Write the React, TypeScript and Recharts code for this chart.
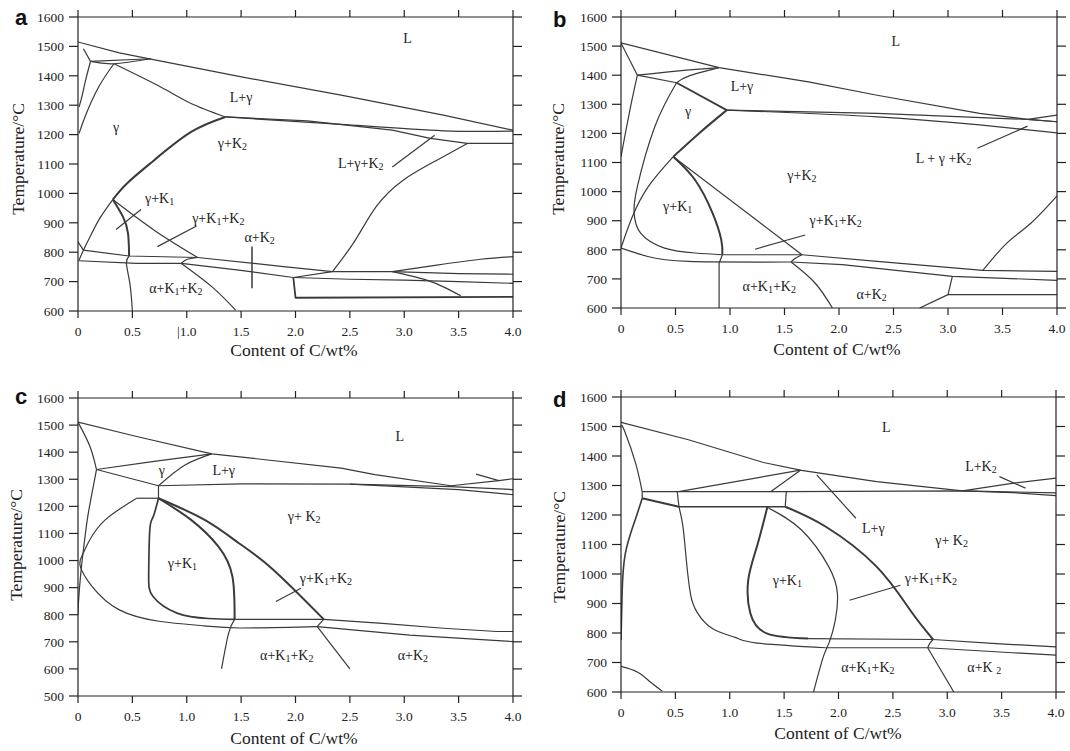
import React from 'react';
import { ComposedChart, Line, Scatter, XAxis, YAxis } from 'recharts';

type P = [number, number];
type L = [number, number, string];

const FONT = '"Liberation Serif", "Times New Roman", serif';
const SANS = '"Liberation Sans", Arial, sans-serif';
const INK = '#222';
const LINE = '#3a3a3a';

// ---------- axis ticks ----------
const xTicks = [0, 0.5, 1, 1.5, 2, 2.5, 3, 3.5, 4];
const yTicks600 = [600, 700, 800, 900, 1000, 1100, 1200, 1300, 1400, 1500, 1600];
const yTicks500 = [500, 600, 700, 800, 900, 1000, 1100, 1200, 1300, 1400, 1500, 1600];

// ---------- panel a ----------
const aLiquidus: P[] = [[0, 1515], [0.38, 1478], [0.67, 1457], [1.48, 1398], [2.42, 1334], [3.36, 1266], [4.0, 1215]];
const aDeltaTop: P[] = [[0.05, 1492], [0.115, 1449]];
const aDeltaSolvus: P[] = [[0.115, 1449], [0.07, 1385], [0.035, 1328], [0.01, 1294]];
const aPeritectic1: P[] = [[0.115, 1449], [0.67, 1458]];
const aPeritectic2: P[] = [[0.115, 1449], [0.33, 1441], [0.67, 1458]];
const aGammaSolidus: P[] = [[0.33, 1441], [0.19, 1362], [0.07, 1266], [0.01, 1204]];
const aLGamma: P[] = [[0.33, 1441], [0.76, 1362], [1.04, 1306], [1.355, 1260]];
const aEutUp: P[] = [[1.355, 1260], [2.42, 1235], [3.36, 1213], [4.0, 1212]];
const aEutLow: P[] = [[1.355, 1260], [2.11, 1247], [2.89, 1215], [3.24, 1187], [3.58, 1170], [4.0, 1170]];
const aGammaK2: P[] = [[1.355, 1260], [1.04, 1209], [0.7, 1113], [0.45, 1034], [0.32, 979]];
const aGammaK1: P[] = [[0.32, 979], [0.2, 915], [0.11, 852], [0.05, 807], [0.01, 773]];
const aCorner: P[] = [[0, 835], [0.05, 807]];
const aK1Solvus: P[] = [[0.32, 979], [0.414, 920], [0.46, 864], [0.47, 787]];
const aGK1K2: P[] = [[0.32, 979], [0.7, 875], [1.1, 782]];
const aUpper: P[] = [[0.05, 807], [0.47, 787], [1.1, 782], [1.89, 751], [2.34, 734]];
const aLower: P[] = [[0.005, 771], [0.54, 762], [0.95, 762]];
const aLoop: P[] = [[0.95, 762], [1.0, 775], [1.1, 782]];
const aAlphaTop: P[] = [[0.95, 762], [1.48, 739], [1.98, 714]];
const aAlphaK1: P[] = [[0.95, 762], [1.23, 683], [1.45, 603]];
const aStep: P[] = [[1.98, 714], [2.34, 734], [2.89, 734]];
const aUpperRight: P[] = [[2.89, 734], [3.3, 756], [3.7, 776], [4.0, 785]];
const aMidRight: P[] = [[2.89, 734], [3.5, 727], [4.0, 725]];
const aLowRight: P[] = [[1.98, 714], [2.5, 708], [3.0, 705], [3.5, 700], [4.0, 694]];
const aDrop: P[] = [[2.89, 734], [3.2, 706], [3.39, 677], [3.52, 652]];
const aBox: P[] = [[1.98, 714], [2.0, 645], [4.0, 648]];
const aRightCurve: P[] = [[2.34, 734], [2.55, 841], [2.74, 954], [2.99, 1045], [3.3, 1113], [3.58, 1170]];
const aVertical: P[] = [[0.47, 787], [0.445, 762], [0.477, 694], [0.5, 600]];
const aPtr1: P[] = [[2.89, 1090], [3.28, 1198]];
const aPtr2: P[] = [[0.35, 877], [0.58, 945]];
const aPtr3: P[] = [[0.73, 819], [1.09, 889]];
const aPtr4: P[] = [[1.6, 819], [1.6, 677]];
const aLabels: L[] = [
  [3.03, 1530, 'L'], [1.5, 1328, 'L+γ'], [0.35, 1226, 'γ'], [1.42, 1170, 'γ+K_2'],
  [2.6, 1102, 'L+γ+K_2'], [0.75, 983, 'γ+K_1'], [1.29, 915, 'γ+K_1+K_2'],
  [1.67, 853, 'α+K_2'], [0.9, 677, 'α+K_1+K_2'],
];

// ---------- panel b ----------
const bLiquidus: P[] = [[0, 1511], [0.9, 1426], [1.72, 1377], [2.35, 1331], [3.29, 1269], [3.73, 1248], [4.0, 1240]];
const bLK2: P[] = [[3.73, 1248], [4.0, 1263]];
const bDelta1: P[] = [[0, 1511], [0.15, 1400]];
const bDelta2: P[] = [[0.15, 1400], [0.1, 1314], [0.04, 1200], [0, 1120]];
const bPeri: P[] = [[0.15, 1400], [0.53, 1415], [0.9, 1426]];
const bGammaTop: P[] = [[0.51, 1374], [0.62, 1397], [0.9, 1426]];
const bPeri2: P[] = [[0.15, 1400], [0.51, 1374]];
const bLGamma: P[] = [[0.51, 1374], [0.97, 1280]];
const bGammaK1Left: P[] = [[0.51, 1374], [0.31, 1223], [0.15, 1017], [0.12, 926], [0.18, 857], [0.4, 806], [0.68, 789], [0.93, 783]];
const bEutUp: P[] = [[0.97, 1280], [2.35, 1269], [3.73, 1248], [4.0, 1240]];
const bEutLow: P[] = [[0.97, 1280], [2.35, 1257], [3.29, 1229], [4.0, 1202]];
const bGammaK2: P[] = [[0.97, 1280], [0.715, 1200], [0.48, 1120]];
const bGammaK2b: P[] = [[0.48, 1120], [0.25, 1017], [0.1, 910], [0, 806]];
const bK1Solvus: P[] = [[0.48, 1120], [0.68, 1040], [0.84, 926], [0.92, 834], [0.93, 783]];
const bGK1K2: P[] = [[0.48, 1120], [1.66, 783]];
const b783: P[] = [[0.93, 783], [1.66, 783]];
const bAlphaUp: P[] = [[1.66, 783], [2.35, 760], [3.32, 729], [4.0, 726]];
const bLower: P[] = [[0, 806], [0.245, 777], [0.62, 760], [1.56, 758]];
const bLoop: P[] = [[1.56, 758], [1.6, 771], [1.66, 783]];
const bAlphaLow: P[] = [[1.56, 758], [2.03, 749], [3.04, 709], [4.0, 695]];
const bVert: P[] = [[0.93, 783], [0.9, 754], [0.9, 600]];
const bAlphaK1: P[] = [[1.56, 758], [1.78, 686], [1.94, 600]];
const bRight: P[] = [[3.32, 729], [3.54, 823], [3.76, 891], [4.0, 985]];
const bDrop: P[] = [[3.04, 709], [3.0, 646], [4.0, 646]];
const bBottom: P[] = [[3.0, 646], [2.74, 600]];
const bPtr1: P[] = [[3.27, 1149], [3.73, 1225]];
const bPtr2: P[] = [[1.23, 802], [1.69, 851]];
const bLabels: L[] = [
  [2.52, 1518, 'L'], [1.11, 1362, 'L+γ'], [0.615, 1278, 'γ'], [2.96, 1114, 'L + γ +K_2'],
  [1.66, 1057, 'γ+K_2'], [0.52, 951, 'γ+K_1'], [1.97, 903, 'γ+K_1+K_2'],
  [1.36, 677, 'α+K_1+K_2'], [2.3, 649, 'α+K_2'],
];

// ---------- panel c ----------
const cLiquidus: P[] = [[0, 1511], [0.54, 1458], [1.23, 1394], [2.42, 1341], [2.73, 1317], [3.43, 1276]];
const cLK2: P[] = [[3.43, 1276], [3.87, 1295], [4.0, 1302]];
const cPtr1: P[] = [[3.66, 1319], [3.87, 1295]];
const cDelta1: P[] = [[0, 1511], [0.11, 1421], [0.17, 1336]];
const cDelta2: P[] = [[0.17, 1336], [0.12, 1230], [0.085, 1150], [0.05, 1040], [0.025, 950], [0.005, 850], [0, 800]];
const cPeri: P[] = [[0.17, 1336], [0.7, 1366], [1.23, 1394]];
const cPeri2: P[] = [[0.17, 1336], [0.74, 1276]];
const cGammaTop: P[] = [[0.74, 1276], [0.98, 1352], [1.23, 1394]];
const cBoxV: P[] = [[0.74, 1276], [0.74, 1230]];
const cBoxH: P[] = [[0.54, 1230], [0.74, 1230]];
const cArc: P[] = [[0.54, 1230], [0.25, 1150], [0.1, 1070], [0.04, 1020], [0.02, 980], [0.13, 904], [0.38, 818], [0.76, 775], [1.16, 759], [1.48, 751], [2.2, 756]];
const cEutUp: P[] = [[0.74, 1276], [1.5, 1283], [2.5, 1282], [3.43, 1273], [4.0, 1262]];
const cEutLow: P[] = [[2.5, 1282], [3.5, 1262], [4.0, 1243]];
const cGammaK2: P[] = [[0.74, 1230], [1.165, 1150], [1.48, 1064], [1.79, 968], [2.26, 783]];
const cK1Solvus: P[] = [[0.74, 1230], [1.04, 1150], [1.29, 1052], [1.42, 941], [1.44, 781]];
const cK1Left: P[] = [[0.74, 1230], [0.69, 1160], [0.66, 1113], [0.65, 953], [0.69, 867], [0.91, 806], [1.2, 786], [1.44, 783]];
const c783: P[] = [[1.44, 783], [2.26, 783]];
const cAlphaUp: P[] = [[2.26, 783], [2.8, 768], [3.36, 750], [3.85, 738], [4.0, 738]];
const cAlphaLow: P[] = [[2.2, 756], [3.05, 725], [4.0, 701]];
const cLoop: P[] = [[2.2, 756], [2.23, 770], [2.26, 783]];
const cK1Down: P[] = [[1.44, 783], [1.385, 732], [1.32, 600]];
const cAlphaK1: P[] = [[2.2, 756], [2.5, 600]];
const cPtr2: P[] = [[1.82, 849], [2.05, 898]];
const cLabels: L[] = [
  [2.96, 1458, 'L'], [1.34, 1335, 'L+γ'], [0.77, 1333, 'γ'], [2.08, 1163, 'γ+ K_2'],
  [0.96, 990, 'γ+K_1'], [2.28, 935, 'γ+K_1+K_2'], [1.92, 651, 'α+K_1+K_2'], [3.08, 651, 'α+K_2'],
];

// ---------- panel d ----------
const dLiquidus: P[] = [[0, 1514], [0.62, 1455], [1.31, 1378], [1.66, 1351], [2.35, 1313], [3.14, 1282]];
const dLK2: P[] = [[3.14, 1282], [3.61, 1308], [4.0, 1325]];
const dDelta: P[] = [[0.005, 1505], [0.04, 1478], [0.134, 1376], [0.195, 1279]];
const dEutUp: P[] = [[0.195, 1279], [1.52, 1279], [3.14, 1282], [4.0, 1275]];
const dEutLow: P[] = [[3.14, 1282], [3.6, 1276], [4.0, 1266]];
const dNode: P[] = [[0.195, 1279], [0.195, 1257]];
const dThick: P[] = [[0.195, 1257], [0.533, 1228]];
const dBoxL: P[] = [[0.517, 1279], [0.533, 1228]];
const dBoxR: P[] = [[1.52, 1279], [1.51, 1228]];
const dBoxB: P[] = [[0.533, 1228], [1.51, 1228]];
const dLG1: P[] = [[0.53, 1279], [1.65, 1352]];
const dLG2: P[] = [[1.376, 1279], [1.65, 1352]];
const dGammaLeft: P[] = [[0.195, 1257], [0.13, 1183], [0.04, 1070], [0.01, 934], [0, 776]];
const dAlphaBound: P[] = [[0.533, 1228], [0.57, 1160], [0.6, 1050], [0.64, 930], [0.7, 870], [0.84, 815], [1.05, 785], [1.25, 766], [1.88, 750]];
const dAlphaFlat: P[] = [[1.88, 750], [2.82, 750], [3.6, 733], [4.0, 725]];
const dGammaK2: P[] = [[1.51, 1228], [1.88, 1161], [2.35, 1025], [2.66, 877], [2.87, 778]];
const dK1Solvus: P[] = [[1.345, 1226], [1.25, 1093], [1.17, 979], [1.19, 866], [1.345, 798], [1.72, 781]];
const d778: P[] = [[1.72, 781], [2.87, 778]];
const dK1Right: P[] = [[1.345, 1226], [1.66, 1149], [1.91, 1025], [1.99, 934], [1.97, 843], [1.91, 764], [1.86, 719], [1.77, 600]];
const dRightUp: P[] = [[2.87, 778], [3.45, 764], [4.0, 753]];
const dLoop: P[] = [[2.82, 750], [2.84, 765], [2.87, 778]];
const dAlphaK1: P[] = [[2.82, 750], [3.06, 600]];
const dBottomLeft: P[] = [[0, 687], [0.15, 668], [0.27, 634], [0.38, 603]];
const dPtr1: P[] = [[3.48, 1330], [3.72, 1291]];
const dPtr2: P[] = [[1.8, 1336], [2.16, 1189]];
const dPtr3: P[] = [[2.1, 911], [2.57, 962]];
const dLabels: L[] = [
  [2.44, 1498, 'L'], [3.31, 1367, 'L+K_2'], [2.32, 1155, 'L+γ'], [3.04, 1115, 'γ+ K_2'],
  [1.53, 979, 'γ+K_1'], [2.85, 985, 'γ+K_1+K_2'], [2.27, 685, 'α+K_1+K_2'], [3.34, 685, 'α+K _2'],
];

// ---------- rendering ----------
interface Curve { p: P[]; w?: number; s?: boolean }

const THICK = 2;

const aCurves: Curve[] = [
  { p: aLiquidus }, { p: aDeltaTop }, { p: aDeltaSolvus, s: true }, { p: aPeritectic1 }, { p: aPeritectic2, s: true },
  { p: aGammaSolidus, s: true }, { p: aLGamma, s: true }, { p: aEutUp, s: true }, { p: aEutLow },
  { p: aGammaK2, w: THICK, s: true }, { p: aGammaK1, s: true }, { p: aCorner }, { p: aK1Solvus, w: THICK, s: true },
  { p: aGK1K2, s: true }, { p: aUpper }, { p: aLower }, { p: aLoop, s: true }, { p: aAlphaTop, s: true },
  { p: aAlphaK1, s: true }, { p: aStep }, { p: aUpperRight, s: true }, { p: aMidRight }, { p: aLowRight },
  { p: aDrop, s: true }, { p: aBox, w: 1.8 }, { p: aRightCurve, s: true }, { p: aVertical, s: true },
  { p: aPtr1 }, { p: aPtr2 }, { p: aPtr3 }, { p: aPtr4, w: 1.5 },
];

const bCurves: Curve[] = [
  { p: bLiquidus }, { p: bLK2 }, { p: bDelta1 }, { p: bDelta2, s: true }, { p: bPeri, s: true },
  { p: bGammaTop, s: true }, { p: bPeri2 }, { p: bLGamma, w: 1.8 }, { p: bGammaK1Left, s: true },
  { p: bEutUp }, { p: bEutLow, s: true }, { p: bGammaK2, w: THICK, s: true }, { p: bGammaK2b, s: true },
  { p: bK1Solvus, w: THICK, s: true }, { p: bGK1K2 }, { p: b783 }, { p: bAlphaUp }, { p: bLower, s: true },
  { p: bLoop, s: true }, { p: bAlphaLow }, { p: bVert }, { p: bAlphaK1, s: true }, { p: bRight, s: true },
  { p: bDrop }, { p: bBottom }, { p: bPtr1 }, { p: bPtr2 },
];

const cCurves: Curve[] = [
  { p: cLiquidus }, { p: cLK2 }, { p: cPtr1 }, { p: cDelta1, s: true }, { p: cDelta2, s: true }, { p: cPeri },
  { p: cPeri2 }, { p: cGammaTop, s: true }, { p: cBoxV }, { p: cBoxH }, { p: cArc, s: true }, { p: cEutUp },
  { p: cEutLow }, { p: cGammaK2, w: THICK, s: true }, { p: cK1Solvus, w: THICK, s: true },
  { p: cK1Left, w: 1.7, s: true }, { p: c783 }, { p: cAlphaUp }, { p: cAlphaLow }, { p: cLoop, s: true },
  { p: cK1Down, s: true }, { p: cAlphaK1 }, { p: cPtr2 },
];

const dCurves: Curve[] = [
  { p: dLiquidus }, { p: dLK2 }, { p: dDelta, s: true }, { p: dEutUp }, { p: dEutLow }, { p: dNode },
  { p: dThick, w: THICK }, { p: dBoxL }, { p: dBoxR }, { p: dBoxB, w: 1.7 }, { p: dLG1 }, { p: dLG2 },
  { p: dGammaLeft, w: 1.6, s: true }, { p: dAlphaBound, s: true }, { p: dAlphaFlat },
  { p: dGammaK2, w: THICK, s: true }, { p: dK1Solvus, w: THICK, s: true }, { p: d778 },
  { p: dK1Right, s: true }, { p: dRightUp }, { p: dLoop, s: true }, { p: dAlphaK1 }, { p: dBottomLeft, s: true },
  { p: dPtr1 }, { p: dPtr2 }, { p: dPtr3 },
];

const toData = (p: P[]) => p.map(([x, y]) => ({ x, y }));
const toLabels = (l: L[]) => l.map(([x, y, t]) => ({ x, y, t }));

const fmt = (v: number) => (v === 0 ? '0' : v.toFixed(1));
const fmtA = (v: number) => (v === 1 ? '|1.0' : fmt(v));
const noLabel = () => '';

const LabelShape = (props: any) => {
  const { cx, cy, payload } = props;
  if (cx == null || cy == null || !payload) return <g />;
  const parts: string[] = String(payload.t).split(/_(\d)/);
  const kids: React.ReactNode[] = [];
  parts.forEach((s, i) => {
    if (s === '') return;
    if (i % 2 === 1) {
      kids.push(<tspan key={i} fontSize={10} dy={3}>{s}</tspan>);
    } else if (i > 0) {
      kids.push(<tspan key={i} dy={-3}>{s}</tspan>);
    } else {
      kids.push(<tspan key={i}>{s}</tspan>);
    }
  });
  return (
    <text x={cx} y={cy} textAnchor="middle" dominantBaseline="central" fontFamily={FONT} fontSize={14} fill={INK}>
      {kids}
    </text>
  );
};

interface PanelCfg {
  left: number; top: number; height: number;
  margin: { top: number; right: number; bottom: number; left: number };
  yW: number; rW: number;
  yDomain: [number, number]; yTicks: number[];
  curves: Curve[]; labels: L[]; fmt: (v: number) => string;
}

const panels: PanelCfg[] = [
  { left: 0, top: 0, height: 370, margin: { top: 7, right: 10, bottom: 19, left: 0 }, yW: 78, rW: 12,
    yDomain: [600, 1600], yTicks: yTicks600, curves: aCurves, labels: aLabels, fmt: fmtA },
  { left: 535, top: 0, height: 370, margin: { top: 7, right: 3, bottom: 22, left: 0 }, yW: 86, rW: 10,
    yDomain: [600, 1600], yTicks: yTicks600, curves: bCurves, labels: bLabels, fmt },
  { left: 0, top: 380, height: 371, margin: { top: 8, right: 10, bottom: 15, left: 0 }, yW: 78, rW: 12,
    yDomain: [500, 1600], yTicks: yTicks500, curves: cCurves, labels: cLabels, fmt },
  { left: 535, top: 380, height: 371, margin: { top: 7, right: 4, bottom: 19, left: 0 }, yW: 86, rW: 10,
    yDomain: [600, 1600], yTicks: yTicks600, curves: dCurves, labels: dLabels, fmt },
];

const axisLine = { stroke: INK, strokeWidth: 1.2 };
const tickStyle = { fill: INK, fontSize: 13.5, fontFamily: FONT };

const Panel = ({ cfg }: { cfg: PanelCfg }) => (
  <div style={{ position: 'absolute', left: cfg.left, top: cfg.top }}>
    <ComposedChart width={535} height={cfg.height} margin={cfg.margin}>
      <XAxis xAxisId="b" dataKey="x" type="number" domain={[0, 4]} ticks={xTicks} interval={0} allowDataOverflow
        tickFormatter={cfg.fmt} height={40} tickSize={7} tickMargin={8} axisLine={axisLine} tickLine={axisLine}
        stroke={INK} tick={tickStyle} />
      <XAxis xAxisId="t" orientation="top" dataKey="x" type="number" domain={[0, 4]} ticks={xTicks} interval={0}
        allowDataOverflow height={10} tickSize={7} tickFormatter={noLabel} tick={tickStyle} axisLine={axisLine}
        tickLine={axisLine} stroke={INK} />
      <YAxis yAxisId="l" dataKey="y" type="number" domain={cfg.yDomain} ticks={cfg.yTicks} interval={0} allowDataOverflow
        width={cfg.yW} tickSize={9} tickMargin={5} axisLine={axisLine} tickLine={axisLine} stroke={INK} tick={tickStyle} />
      <YAxis yAxisId="r" orientation="right" dataKey="y" type="number" domain={cfg.yDomain} ticks={cfg.yTicks}
        interval={0} allowDataOverflow width={cfg.rW} tickSize={9} tickFormatter={noLabel} tick={tickStyle}
        axisLine={axisLine} tickLine={axisLine} stroke={INK} />
      {cfg.curves.map((c, i) => (
        <Line key={i} xAxisId="b" yAxisId="l" data={toData(c.p)} dataKey="y" type={c.s ? 'natural' : 'linear'}
          stroke={LINE} strokeWidth={c.w ?? 1.2} dot={false} activeDot={false} isAnimationActive={false}
          legendType="none" strokeLinejoin="round" />
      ))}
      <Scatter xAxisId="b" yAxisId="l" data={toLabels(cfg.labels)} shape={LabelShape} isAnimationActive={false}
        legendType="none" />
    </ComposedChart>
  </div>
);

const letters = [
  { t: 'a', x: 15, y: 25 }, { t: 'b', x: 553, y: 27 }, { t: 'c', x: 15, y: 404 }, { t: 'd', x: 553, y: 407 },
];
const xTitles = [{ x: 294, y: 356 }, { x: 837, y: 355 }, { x: 294, y: 744 }, { x: 838, y: 739 }];
const yTitles = [{ x: 24, y: 159 }, { x: 564, y: 159 }, { x: 22, y: 545 }, { x: 565, y: 547 }];

export default function App() {
  return (
    <div style={{ position: 'absolute', left: 0, top: 0, width: 1070, height: 751, background: '#fff', overflow: 'hidden' }}>
      {panels.map((p, i) => <Panel key={i} cfg={p} />)}
      <svg width={1070} height={751} style={{ position: 'absolute', left: 0, top: 0, pointerEvents: 'none' }}>
        {letters.map((l) => (
          <text key={l.t} x={l.x} y={l.y} fontFamily={SANS} fontWeight="bold" fontSize={22} fill="#111">{l.t}</text>
        ))}
        {xTitles.map((t, i) => (
          <text key={'x' + i} x={t.x} y={t.y} textAnchor="middle" fontFamily={FONT} fontSize={17.5} fill={INK}>
            Content of C/wt%
          </text>
        ))}
        {yTitles.map((t, i) => (
          <text key={'y' + i} transform={`translate(${t.x},${t.y}) rotate(-90)`} textAnchor="middle" fontFamily={FONT}
            fontSize={17.5} fill={INK}>
            Temperature/°C
          </text>
        ))}
      </svg>
    </div>
  );
}
